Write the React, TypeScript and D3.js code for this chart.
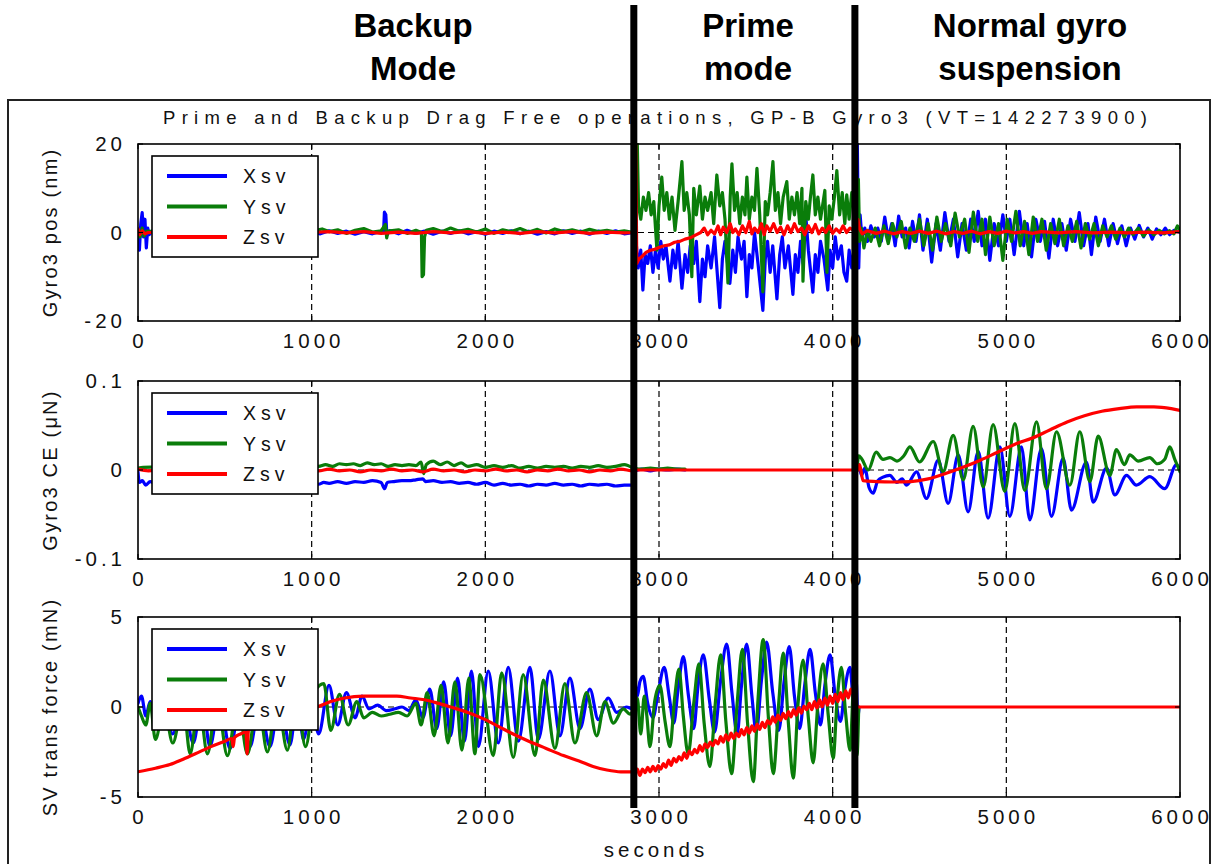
import React from "react";
import * as d3 from "d3";

type Pt = [number, number];

const W = 1217;
const H = 864;
const FONT = "'Liberation Sans', Arial, Helvetica, sans-serif";
const BLUE = "#0000ff";
const GREEN = "#0a7d0a";
const RED = "#ff0000";

// ---------- shared axis / annotation text ----------
const xTickValues = [0, 1000, 2000, 3000, 4000, 5000, 6000];
const xTickLabels = ["0", "1000", "2000", "3000", "4000", "5000", "6000"];
const modeBoundaries = [2855, 4128];
const seriesNames = ["Xsv", "Ysv", "Zsv"];
const headerLines = [
  ["Backup", "Mode"],
  ["Prime", "mode"],
  ["Normal gyro", "suspension"],
];
const plotTitle = "Prime and Backup Drag Free operations, GP-B Gyro3 (VT=142273900)";
const xAxisTitle = "seconds";

// ---------- panel 1: gyro position (nm) ----------
const posTicks = [-20, 0, 20];
const posTickLabels = ["-20", "0", "20"];

const posX: Pt[] = [
  [0, -1], [8, -4], [16, 2], [24, 4.5], [32, -1], [40, 3], [48, -3.5], [56, 1], [64, -0.5], [80, 0.3],
  [200, 0], [400, 0], [600, 0], [800, 0], [1000, 0.2], [1050, -0.3], [1100, 0.4], [1150, -0.2], [1200, 0.3],
  [1250, -0.4], [1300, 0.2], [1350, -0.3], [1400, 0.3], [1414, 0], [1419, 4.6], [1427, 4.0], [1433, -0.6],
  [1450, 0.4], [1500, -0.3], [1550, 0.5], [1600, -0.2], [1650, 0.3], [1700, -0.4], [1750, 0.3], [1800, -0.2],
  [1850, 0.4], [1900, -0.3], [1950, 0.2], [2000, -0.4], [2050, 0.3], [2100, -0.2], [2150, 0.4], [2200, -0.3],
  [2250, 0.3], [2300, -0.4], [2350, 0.2], [2400, -0.3], [2450, 0.4], [2500, -0.2], [2550, 0.3], [2600, -0.4],
  [2650, 0.3], [2700, -0.2], [2750, 0.4], [2800, -0.3], [2855, 0],
  // prime mode
  [2868, -2], [2880, -8], [2895, -4], [2907, -13], [2920, -5], [2935, -7], [2950, -3], [2965, -9], [2980, -4],
  [2995, -8], [3010, -2], [3025, -6], [3040, -3], [3063, -11], [3080, -4], [3095, -8], [3110, -2], [3132, -12.6],
  [3150, -5], [3165, -9], [3180, -3], [3200, -7], [3215, -2], [3235, -15.6], [3250, -6], [3265, -10], [3280, -3],
  [3300, -8], [3320, -1], [3350, -17], [3365, -6], [3380, -2], [3408, -11.5], [3425, -4], [3440, -9], [3455, -1],
  [3475, -6], [3490, -2], [3506, -14.5], [3520, -5], [3535, -8], [3550, 0], [3570, -7], [3598, -17.6], [3612, -6],
  [3625, -2], [3640, -9], [3655, -3], [3679, -15], [3695, -5], [3710, -1], [3725, -8], [3745, -3], [3771, -14],
  [3785, -5], [3800, -9], [3815, -2], [3830, -7], [3845, 4], [3860, -4], [3886, -13.5], [3900, -5], [3915, -9],
  [3930, -2], [3950, -6], [3972, -13], [3985, -4], [4000, -8], [4015, -1], [4030, -6], [4050, -3], [4065, -9],
  [4081, -11], [4095, -4], [4110, -8], [4125, -3],
  // normal suspension
  [4135, -9], [4142, 20], [4150, -8], [4158, 4], [4168, -1], [4185, 1], [4200, -2], [4220, 1.5], [4240, -1],
  [4260, 1], [4280, -2], [4300, 3.5], [4320, -1.5], [4340, 2], [4360, -3], [4380, 3.7], [4400, -1], [4420, 1],
  [4440, -3.5], [4460, 2.5], [4480, -2], [4500, 4], [4520, -4], [4545, 3], [4570, -6.7], [4595, 2], [4620, -4],
  [4646, 4.5], [4670, -2], [4695, 3], [4720, -5.5], [4745, 2], [4770, -4], [4795, 3], [4815, -2], [4838, 4.8],
  [4860, -3], [4880, 3], [4905, -6.3], [4930, 2], [4955, -3], [4980, 4], [5000, -2], [5020, 3], [5045, -5],
  [5075, 4.8], [5100, -3], [5120, 2], [5145, -5.5], [5170, 3], [5195, -2], [5220, 2.5], [5245, -5.8], [5270, 3],
  [5295, -3], [5320, 2], [5345, -4], [5370, 3], [5395, -2], [5420, 4.5], [5445, -3], [5470, 2], [5490, -5],
  [5515, 3.5], [5540, -2], [5565, 3], [5590, -3], [5615, 2], [5640, -2.5], [5665, 1.5], [5690, -3], [5715, 1],
  [5740, -1.5], [5765, 1.6], [5790, -1], [5815, 1], [5840, -1.5], [5865, 0.8], [5890, -0.5], [5915, 1],
  [5940, -0.5], [5965, 0.5], [6000, 0],
];

const posY: Pt[] = [
  [0, 0.5], [12, -1], [24, 1], [36, -0.8], [50, 0.3], [200, 0], [400, 0], [600, 0], [800, 0], [1000, 0.3],
  [1060, 0.8], [1100, 0.2], [1150, 0.6], [1200, -0.2], [1250, 0.5], [1300, 0.9], [1350, 0.1], [1400, 0.4],
  [1425, 1.8], [1432, -1.2], [1440, 0.3], [1500, 0.6], [1550, -0.2], [1600, 0.5], [1632, 0], [1636, -10],
  [1644, -9.5], [1650, -1], [1660, 0.5], [1700, 0.9], [1750, 0.2], [1800, 1.0], [1850, 0.3], [1900, 0.7],
  [1950, 0.1], [2000, 0.8], [2050, -0.2], [2100, 0.6], [2150, 0.2], [2200, 0.9], [2250, 0.1], [2300, 0.7],
  [2350, -0.1], [2400, 0.8], [2450, 0.2], [2500, 0.6], [2550, 0.1], [2600, 0.7], [2650, 0.2], [2700, 0.5],
  [2750, 0.1], [2800, 0.4], [2855, 0],
  // prime mode
  [2861, 20], [2875, 20], [2882, 6], [2895, 3], [2910, 8], [2925, 5], [2940, 9], [2955, 4], [2970, 7],
  [2988, -4], [3000, 6], [3016, 12.5], [3030, 5], [3045, 9], [3060, 3], [3075, 8], [3092, 0.5], [3110, 7],
  [3132, 16], [3145, 5], [3160, 9], [3175, 4], [3189, -10], [3200, 10], [3215, 4], [3235, 10.5], [3250, 3],
  [3265, 8], [3280, 5], [3300, 9], [3315, 2], [3333, 13], [3350, 6], [3365, 9], [3380, 3], [3397, -11.4],
  [3410, 8], [3420, 15.5], [3435, 5], [3450, 9], [3465, 2], [3480, 8], [3495, 4], [3506, 12.5], [3520, 3],
  [3535, 8], [3550, 5], [3564, 14.5], [3580, 4], [3598, -13.4], [3612, 7], [3625, 4], [3640, 9], [3656, 16],
  [3670, 5], [3685, 9], [3700, 2], [3715, 8], [3736, 11.5], [3750, 3], [3765, 8], [3780, 4], [3795, 9],
  [3810, 2], [3823, 10], [3829, -11], [3845, 7], [3860, 3], [3872, 8], [3886, 13], [3900, 4], [3915, 8],
  [3930, 3], [3955, 9.5], [3967, -9], [3980, 6], [3995, 3], [4010, 8], [4024, 14], [4040, 4], [4055, 9],
  [4070, 2], [4081, 8.5], [4095, 3], [4110, 9], [4125, 5],
  // normal suspension
  [4135, 2], [4148, 12], [4155, -2], [4165, 1], [4180, -3.5], [4200, 0.5], [4220, -2], [4245, 1], [4270, -3],
  [4295, 1.5], [4320, -2.5], [4345, 2], [4370, -1], [4395, 2.5], [4420, -3.5], [4445, 1], [4470, -2],
  [4500, 3], [4525, -3], [4550, 2], [4575, -4], [4600, 3.5], [4625, -2], [4650, 2], [4680, -3], [4705, 4.4],
  [4730, -1], [4760, 3], [4785, -4.5], [4810, 4.6], [4835, -2], [4860, 3], [4880, -5], [4905, 3.5],
  [4930, -3], [4955, 2], [4980, -6.3], [5005, 3], [5030, -2], [5055, 4.8], [5080, -3], [5105, 2.5],
  [5130, -5], [5155, 3.5], [5180, -2], [5205, 3], [5230, -4], [5255, 2], [5280, -2.5], [5305, 3], [5330, -3],
  [5355, 1.5], [5380, -2], [5405, 2.5], [5430, -3.5], [5455, 2], [5480, -1.5], [5505, 2], [5530, -3],
  [5555, 1.5], [5580, -1], [5605, 1.5], [5630, -1.5], [5655, 1], [5680, -1], [5705, 1], [5730, -0.5],
  [5760, 1], [5790, -0.8], [5820, 0.6], [5850, -0.5], [5880, 0.5], [5910, -0.3], [5940, 0.4], [5965, -0.3],
  [5985, 1.5], [6000, 0.5],
];

const posZ: Pt[] = [
  [0, 0.8], [10, -0.5], [25, 0.4], [40, -0.3], [60, 0], [300, 0], [600, 0], [1000, 0], [1100, 0.2],
  [1200, -0.1], [1300, 0.2], [1400, -0.2], [1500, 0.1], [1600, -0.2], [1700, 0.2], [1800, -0.1],
  [1900, 0.2], [2000, -0.2], [2100, 0.1], [2200, -0.2], [2300, 0.2], [2400, -0.1], [2500, 0.2],
  [2600, -0.2], [2700, 0.1], [2800, -0.1], [2855, 0],
  // prime mode
  [2860, 0], [2866, 20], [2872, -7], [2885, -6], [2900, -5.5], [2925, -4.5], [2950, -4], [2975, -3.8],
  [3000, -3.4], [3030, -3], [3060, -2.8], [3090, -2.2], [3120, -2], [3150, -1.5], [3180, -1.2],
  [3210, -0.6], [3240, 0], [3260, 1], [3280, -0.5], [3300, 0.5], [3320, -0.3], [3340, 1.5], [3355, -0.5],
  [3370, 1.2], [3390, 0], [3410, 2], [3425, 0], [3440, 0.8], [3460, -0.5], [3480, 1.5], [3500, 0],
  [3520, 2.5], [3535, -0.3], [3550, 1], [3570, 0], [3590, 2], [3605, -0.5], [3620, 1.5], [3640, 0.3],
  [3660, 2], [3680, 0], [3700, 1.2], [3720, -0.5], [3740, 1.5], [3760, 0], [3780, 2], [3800, 0.2],
  [3820, 1], [3840, -0.5], [3860, 1.5], [3880, 0], [3900, 1.8], [3920, -0.3], [3940, 1], [3960, 0],
  [3980, 1.5], [4000, -0.2], [4020, 0.8], [4040, 0], [4060, 1.5], [4080, 0], [4100, 1], [4120, 0.5],
  // normal suspension
  [4135, 0.5], [4145, 3], [4155, 0.8], [4170, -0.3], [4200, 0.4], [4250, -0.2], [4300, 0.3], [4350, -0.3],
  [4400, 0.2], [4450, -0.2], [4500, 0.3], [4550, -0.2], [4600, 0.3], [4650, -0.3], [4700, 0.2],
  [4750, -0.2], [4800, 0.3], [4850, -0.3], [4900, 0.2], [4950, -0.2], [5000, 0.3], [5050, -0.1],
  [5100, 0.2], [5150, -0.2], [5200, 0.2], [5300, -0.1], [5400, 0.2], [5500, -0.1], [5600, 0.1],
  [5700, -0.1], [5800, 0.1], [5900, -0.1], [6000, 0.2],
];

// ---------- panel 2: gyro control effort (µN) ----------
const ceTicks = [-0.1, 0, 0.1];
const ceTickLabels = ["-0.1", "0", "0.1"];

const ceX_backup: Pt[] = [
  [0, -0.002], [8, -0.014], [25, -0.012], [45, -0.017], [70, -0.013], [100, -0.015], [300, -0.015],
  [600, -0.015], [900, -0.015], [1040, -0.016], [1070, -0.014], [1100, -0.015], [1150, -0.013],
  [1200, -0.015], [1250, -0.013], [1300, -0.014], [1350, -0.012], [1400, -0.014], [1420, -0.021],
  [1435, -0.014], [1470, -0.013], [1520, -0.012], [1560, -0.012], [1600, -0.011], [1640, -0.010],
  [1655, -0.013], [1700, -0.012], [1750, -0.014], [1800, -0.013], [1850, -0.015], [1900, -0.014],
  [1950, -0.016], [2000, -0.014], [2050, -0.017], [2100, -0.015], [2150, -0.017], [2200, -0.016],
  [2250, -0.018], [2300, -0.016], [2350, -0.017], [2400, -0.015], [2450, -0.017], [2500, -0.016],
  [2550, -0.018], [2600, -0.016], [2650, -0.017], [2700, -0.016], [2750, -0.018], [2800, -0.017],
  [2850, -0.017],
];
const ceX_prime: Pt[] = [
  [2860, -0.001], [2900, 0.001], [2950, -0.001], [3000, 0.001], [3050, 0], [3100, 0.001], [3150, 0],
];
const ceX_normal: Pt[] = [
  [4140, 0], [4150, 0.006], [4166, -0.006], [4185, 0.002], [4210, -0.02], [4233, -0.026], [4260, -0.012],
  [4290, -0.008], [4329, -0.006], [4370, -0.014], [4400, -0.01], [4425, -0.017], [4483, -0.002],
  [4540, -0.032], [4608, 0.011], [4665, -0.0375], [4723, 0.017], [4780, -0.047], [4838, 0.021],
  [4895, -0.054], [4963, 0.026], [5020, -0.052], [5087, 0.026], [5135, -0.056], [5202, 0.024],
  [5260, -0.052], [5327, 0.013], [5375, -0.045], [5461, 0.009], [5500, -0.036], [5577, 0.002],
  [5625, -0.028], [5692, -0.006], [5749, -0.017], [5826, -0.0075], [5912, -0.021], [5980, 0.006],
  [6000, 0],
];

const ceY_backup: Pt[] = [
  [0, 0.002], [30, 0.003], [300, 0.004], [600, 0.004], [900, 0.004], [1040, 0.004], [1080, 0.006],
  [1120, 0.004], [1160, 0.007], [1200, 0.006], [1240, 0.007], [1280, 0.005], [1320, 0.008], [1360, 0.006],
  [1400, 0.007], [1440, 0.004], [1480, 0.006], [1520, 0.005], [1560, 0.006], [1600, 0.005], [1630, 0.009],
  [1645, -0.004], [1660, 0.006], [1700, 0.01], [1740, 0.006], [1780, 0.009], [1820, 0.005], [1860, 0.008],
  [1900, 0.004], [1950, 0.006], [2000, 0.003], [2050, 0.005], [2100, 0.003], [2150, 0.005], [2200, 0.002],
  [2250, 0.004], [2300, 0.002], [2350, 0.004], [2400, 0.003], [2450, 0.004], [2500, 0.002], [2550, 0.004],
  [2600, 0.003], [2650, 0.005], [2700, 0.003], [2750, 0.004], [2800, 0.006], [2850, 0.002],
];
const ceY_prime: Pt[] = [
  [2860, 0.002], [2900, 0.001], [2950, 0.002], [3000, 0.001], [3050, 0.002], [3100, 0.001], [3150, 0.001],
];
const ceY_normal: Pt[] = [
  [4140, 0.0], [4150, 0.016], [4166, 0.013], [4205, 0.0], [4250, 0.02], [4290, 0.012], [4330, 0.014],
  [4370, 0.01], [4410, 0.016], [4445, 0.026], [4500, 0.009], [4579, 0.032], [4636, -0.002], [4694, 0.039],
  [4752, -0.011], [4809, 0.049], [4867, -0.019], [4924, 0.051], [4991, -0.024], [5049, 0.052],
  [5106, -0.023], [5174, 0.054], [5231, -0.021], [5289, 0.043], [5366, -0.017], [5423, 0.043],
  [5481, -0.013], [5529, 0.038], [5596, -0.006], [5634, 0.023], [5680, 0.006], [5711, 0.017],
  [5760, 0.01], [5826, 0.014], [5870, 0.007], [5912, 0.012], [5941, 0.026], [5970, 0.012], [6000, -0.002],
];

const ceZ_backup: Pt[] = [
  [0, 0.001], [60, -0.001], [150, 0.0], [300, 0], [600, 0], [900, 0], [1040, -0.001], [1100, 0.001],
  [1160, -0.001], [1220, 0.0], [1280, -0.002], [1340, 0.0], [1400, -0.001], [1460, 0.001], [1520, -0.001],
  [1580, 0.0], [1640, -0.002], [1700, 0.001], [1760, -0.001], [1820, 0.0], [1880, -0.002], [1940, 0.0],
  [2000, -0.001], [2060, 0.001], [2120, -0.001], [2180, 0.0], [2240, -0.002], [2300, 0.0], [2360, -0.001],
  [2420, 0.001], [2480, -0.001], [2540, 0.0], [2600, -0.002], [2660, 0.0], [2720, -0.001], [2780, 0.001],
  [2850, -0.001], [2855, 0], [4145, 0],
];
const ceZ_normal: Pt[] = [
  [4145, 0], [4155, 0.006], [4175, -0.012], [4250, -0.013], [4350, -0.0135], [4450, -0.013],
  [4550, -0.01], [4650, -0.004], [4750, 0.003], [4850, 0.011], [4950, 0.02], [5050, 0.029],
  [5150, 0.036], [5250, 0.045], [5350, 0.054], [5450, 0.061], [5550, 0.066], [5650, 0.069],
  [5750, 0.071], [5850, 0.071], [5950, 0.069], [6000, 0.067],
];

// ---------- panel 3: space vehicle translational force (mN) ----------
const forceTicks = [-5, 0, 5];
const forceTickLabels = ["-5", "0", "5"];

const forceX: Pt[] = [
  [0, 0.2], [20, 0.6], [45, -0.5], [70, 0.3], [100, -1.2], [150, 0.3], [200, -1.5], [260, 0.4],
  [318, -2.0], [370, 0.4], [414, -2.2], [470, 0.3], [530, -2.3], [590, 0.2], [645, -2.2], [700, 0.2],
  [760, -2.2], [815, 0.4], [875, -2.1], [920, 0.6], [952, -1.8], [1000, 0.2], [1040, -1.5], [1100, 1.2],
  [1150, -1.0], [1200, 0.8], [1250, -0.6], [1290, 0.6], [1330, -0.1], [1380, 0.1], [1430, -0.2],
  [1480, -0.1], [1520, 0.0], [1560, -0.2], [1600, 0.4], [1640, -0.6], [1680, 1.0], [1720, -1.2],
  [1760, 1.4], [1800, -1.6], [1840, 1.6], [1880, -1.9], [1920, 2.0], [1960, -2.2], [2017, 2.0],
  [2075, -2.0], [2132, 2.2], [2190, -1.9], [2257, 2.2], [2305, -1.8], [2372, 2.0], [2430, -1.6],
  [2487, 1.6], [2545, -1.2], [2602, 1.0], [2650, -0.7], [2708, 0.5], [2756, -0.3], [2813, 0.0],
  [2850, -0.1],
  // prime mode
  [2858, 1.5], [2875, 0.6], [2890, 1.4], [2909, 1.7], [2935, 0.2], [2965, -0.6], [2995, 0.8],
  [3030, 2.2], [3060, 0.5], [3085, -0.9], [3110, 1.0], [3140, 2.8], [3170, 0.6], [3200, -1.2],
  [3225, 1.2], [3255, 2.9], [3290, 0.4], [3320, -1.4], [3355, 1.5], [3390, 3.5], [3420, 0.8],
  [3450, -1.5], [3475, 1.2], [3505, 3.5], [3535, 0.6], [3560, -1.4], [3590, 1.5], [3620, 3.6],
  [3655, 0.8], [3690, -1.3], [3720, 1.4], [3750, 3.35], [3780, 0.6], [3810, -1.2], [3840, 1.3],
  [3870, 3.2], [3900, 0.8], [3930, -1.0], [3955, 1.2], [3985, 2.9], [4015, 0.6], [4045, -0.8],
  [4070, 1.0], [4100, 2.2], [4120, 0.4], [4135, 1.5], [4145, -0.5], [4152, 0],
];

const forceY: Pt[] = [
  [0, 0], [20, -0.5], [45, -1.0], [70, 0.2], [100, -1.8], [150, 0], [200, -2.0], [260, 0.2], [300, -2.6],
  [350, 0.3], [400, -2.6], [455, 0.4], [515, -2.7], [575, 0.3], [630, -2.6], [690, 0.4], [745, -2.5],
  [800, 0.5], [860, -2.4], [910, 0.8], [965, -2.2], [1020, 0.9], [1070, 1.3], [1110, -1.3], [1160, 0.7],
  [1210, -1.0], [1260, 0.3], [1300, -0.6], [1350, -0.3], [1400, -0.5], [1450, -0.4], [1500, -0.3],
  [1550, -0.5], [1600, 0.2], [1630, -1.0], [1665, 0.8], [1705, -1.6], [1745, 1.2], [1785, -2.0],
  [1825, 1.4], [1865, -2.4], [1905, 1.6], [1940, -2.6], [1969, 1.8], [2046, -2.7], [2094, 1.9],
  [2161, -2.8], [2218, 1.8], [2286, -2.7], [2334, 1.5], [2401, -2.3], [2458, 1.3], [2516, -2.0],
  [2583, 0.8], [2641, -1.6], [2689, 0.3], [2737, -0.9], [2794, -0.1], [2833, -0.4], [2850, -0.3],
  // prime mode
  [2858, -0.3], [2875, 0.5], [2895, -1.5], [2915, 0.6], [2930, -0.5], [2948, -2.2], [2975, 0.3],
  [3005, 1.2], [3035, -0.8], [3063, -2.2], [3090, 0.5], [3115, 2.1], [3140, -0.5], [3168, -2.6],
  [3200, 0.2], [3230, 2.4], [3260, -0.9], [3293, -3.3], [3325, 0.3], [3355, 2.9], [3385, -0.8],
  [3418, -3.7], [3450, 0.2], [3480, 3.2], [3510, -0.9], [3543, -4.15], [3570, 0.4], [3600, 3.75],
  [3630, -0.6], [3658, -3.7], [3690, 0.3], [3715, 3.0], [3745, -0.9], [3773, -3.95], [3800, 0.1],
  [3830, 2.6], [3860, -0.6], [3888, -3.1], [3915, 0.2], [3945, 2.4], [3975, -0.5], [4003, -2.85],
  [4025, 0.3], [4050, 2.2], [4075, -0.4], [4100, -2.4], [4118, 1.0], [4130, 2.5], [4140, -2.7], [4150, 0],
];

const forceZ_backup: Pt[] = [
  [0, -3.6], [100, -3.4], [184, -3.2], [260, -2.9], [330, -2.6], [420, -2.2], [500, -1.9], [540, -1.75],
  [548, -2.2], [556, -1.7], [590, -1.5], [622, -1.4], [628, -2.6], [636, -1.3], [670, -1.1], [700, -1.0],
  [770, -0.7], [860, -0.3], [950, -0.1], [1030, 0.0], [1110, 0.3], [1190, 0.5], [1300, 0.6], [1400, 0.6],
  [1490, 0.6], [1570, 0.5], [1650, 0.4], [1730, 0.2], [1800, 0.0], [1900, -0.3], [2000, -0.7], [2080, -1.1],
  [2160, -1.5], [2250, -1.9], [2350, -2.3], [2450, -2.7], [2540, -3.0], [2620, -3.3], [2700, -3.5],
  [2780, -3.6], [2850, -3.6],
];
// prime-mode samples, every 15 s from 2860 s
const forceZ_primeStart = 2860;
const forceZ_primeStep = 15;
const forceZ_prime = [
  -3.75, -3.45, -3.8, -3.45, -3.65, -3.35, -3.6, -3.3, -3.55, -3.25, -3.45, -3.15, -3.35, -2.95, -3.25,
  -2.85, -3.05, -2.75, -2.95, -2.55, -2.85, -2.45, -2.65, -2.35, -2.55, -2.15, -2.45, -2.05, -2.25, -1.95,
  -2.15, -1.85, -2.05, -1.65, -1.95, -1.55, -1.85, -1.45, -1.75, -1.45, -1.65, -1.25, -1.55, -1.15, -1.45,
  -1.05, -1.35, -0.95, -1.25, -0.85, -1.15, -0.75, -0.95, -0.55, -0.85, -0.45, -0.75, -0.35, -0.65, -0.25,
  -0.55, -0.15, -0.45, -0.05, -0.35, 0.05, -0.15, 0.2, -0.15, 0.3, -0.05, 0.4, 0.0, 0.5, 0.1, 0.6, 0.2,
  0.7, 0.3, 0.8, 0.4, 0.9, 0.5, 1.0, 0.7,
];
const forceZ_normal: Pt[] = [[4130, 0.8], [4140, 0], [6000, 0]];

// ---------- layout ----------
const x = d3.scaleLinear().domain([0, 6000]).range([138, 1180]);

type Series = { color: string; segments: Pt[][] };
type PanelCfg = {
  top: number;
  bottom: number;
  ticks: number[];
  tickLabels: string[];
  yTitle: string;
  curve: d3.CurveFactory;
  series: Series[];
};

const forceZPrimePts: Pt[] = forceZ_prime.map((v, i) => [forceZ_primeStart + i * forceZ_primeStep, v]);

const panels: PanelCfg[] = [
  {
    top: 144,
    bottom: 321,
    ticks: posTicks,
    tickLabels: posTickLabels,
    yTitle: "Gyro3 pos (nm)",
    curve: d3.curveLinear,
    series: [
      { color: BLUE, segments: [posX] },
      { color: GREEN, segments: [posY] },
      { color: RED, segments: [posZ] },
    ],
  },
  {
    top: 381,
    bottom: 559,
    ticks: ceTicks,
    tickLabels: ceTickLabels,
    yTitle: "Gyro3 CE (\u03bcN)",
    curve: d3.curveMonotoneX,
    series: [
      { color: BLUE, segments: [ceX_backup, ceX_prime, ceX_normal] },
      { color: GREEN, segments: [ceY_backup, ceY_prime, ceY_normal] },
      { color: RED, segments: [ceZ_backup, ceZ_normal] },
    ],
  },
  {
    top: 617,
    bottom: 797,
    ticks: forceTicks,
    tickLabels: forceTickLabels,
    yTitle: "SV trans force (mN)",
    curve: d3.curveMonotoneX,
    series: [
      { color: BLUE, segments: [forceX] },
      { color: GREEN, segments: [forceY] },
      { color: RED, segments: [[...forceZ_backup, ...forceZPrimePts, ...forceZ_normal]] },
    ],
  },
];

const seriesColors = [BLUE, GREEN, RED];
const headerX = [413, 748, 1030];

function Panel({ cfg, idx }: { cfg: PanelCfg; idx: number }) {
  const y = d3
    .scaleLinear()
    .domain([cfg.ticks[0], cfg.ticks[cfg.ticks.length - 1]])
    .range([cfg.bottom, cfg.top]);
  const line = d3
    .line<Pt>()
    .x((d) => x(d[0]))
    .y((d) => y(d[1]))
    .curve(cfg.curve);
  const [left, right] = x.range();
  const clipId = `plot-clip-${idx}`;
  const legendX = left + 14;
  const legendY = cfg.top + 12;
  const midY = (cfg.top + cfg.bottom) / 2;

  return (
    <g>
      <defs>
        <clipPath id={clipId}>
          <rect x={left} y={cfg.top - 1} width={right - left} height={cfg.bottom - cfg.top + 2} />
        </clipPath>
      </defs>

      {/* dashed grid */}
      {xTickValues.slice(1, -1).map((t) => (
        <line
          key={`gx${t}`}
          x1={x(t)}
          x2={x(t)}
          y1={cfg.top}
          y2={cfg.bottom}
          stroke="#000"
          strokeWidth={1.2}
          strokeDasharray="6,4"
        />
      ))}
      {cfg.ticks.slice(1, -1).map((v) => (
        <line
          key={`gy${v}`}
          x1={left}
          x2={right}
          y1={y(v)}
          y2={y(v)}
          stroke="#000"
          strokeWidth={1.2}
          strokeDasharray="6,4"
        />
      ))}

      {/* data */}
      <g clipPath={`url(#${clipId})`}>
        {cfg.series.map((s, si) =>
          s.segments.map((seg, gi) => (
            <path
              key={`s${si}-${gi}`}
              d={line(seg) || ""}
              fill="none"
              stroke={s.color}
              strokeWidth={3.2}
              strokeLinejoin="round"
              strokeLinecap="round"
            />
          ))
        )}
      </g>

      {/* axes box */}
      <rect
        x={left}
        y={cfg.top}
        width={right - left}
        height={cfg.bottom - cfg.top}
        fill="none"
        stroke="#000"
        strokeWidth={1.6}
      />
      {xTickValues.map((t) => (
        <g key={`tx${t}`}>
          <line x1={x(t)} x2={x(t)} y1={cfg.bottom} y2={cfg.bottom - 5} stroke="#000" strokeWidth={1.2} />
          <line x1={x(t)} x2={x(t)} y1={cfg.top} y2={cfg.top + 5} stroke="#000" strokeWidth={1.2} />
        </g>
      ))}
      {cfg.ticks.map((v) => (
        <g key={`ty${v}`}>
          <line x1={left} x2={left + 5} y1={y(v)} y2={y(v)} stroke="#000" strokeWidth={1.2} />
          <line x1={right} x2={right - 5} y1={y(v)} y2={y(v)} stroke="#000" strokeWidth={1.2} />
        </g>
      ))}

      {/* tick labels */}
      {xTickValues.map((t, i) => (
        <text
          key={`lx${t}`}
          x={x(t) + 2}
          y={cfg.bottom + 27}
          textAnchor="middle"
          fontSize={20.5}
          letterSpacing={4}
          fill="#111"
        >
          {xTickLabels[i]}
        </text>
      ))}
      {cfg.ticks.map((v, i) => (
        <text
          key={`ly${v}`}
          x={126}
          y={y(v) + 7}
          textAnchor="end"
          fontSize={20.5}
          letterSpacing={4}
          fill="#111"
        >
          {cfg.tickLabels[i]}
        </text>
      ))}

      {/* y axis title */}
      <text
        transform={`translate(57,${midY}) rotate(-90)`}
        textAnchor="middle"
        fontSize={20}
        letterSpacing={2.2}
        fill="#111"
      >
        {cfg.yTitle}
      </text>

      {/* legend */}
      <rect x={legendX} y={legendY} width={166} height={101} fill="#fff" stroke="#000" strokeWidth={1.6} />
      {seriesNames.map((name, i) => {
        const ry = legendY + 20 + i * 30.5;
        return (
          <g key={name}>
            <line x1={legendX + 15} x2={legendX + 75} y1={ry} y2={ry} stroke={seriesColors[i]} strokeWidth={4} />
            <text x={legendX + 91} y={ry + 7} fontSize={19.5} letterSpacing={5} fill="#111">
              {name}
            </text>
          </g>
        );
      })}
    </g>
  );
}

export default function App() {
  return (
    <svg
      width={W}
      height={H}
      viewBox={`0 0 ${W} ${H}`}
      style={{ position: "absolute", left: 0, top: 0, display: "block" }}
      fontFamily={FONT}
    >
      <rect width={W} height={H} fill="#fff" />
      <rect x={8} y={100} width={1202} height={800} fill="none" stroke="#222" strokeWidth={2} />

      <text x={655} y={124} textAnchor="middle" fontSize={18.5} textLength={984} lengthAdjust="spacing" fill="#111">
        {plotTitle}
      </text>

      {panels.map((p, i) => (
        <Panel key={i} cfg={p} idx={i} />
      ))}

      <text x={656} y={857} textAnchor="middle" fontSize={20.5} letterSpacing={4} fill="#111">
        {xAxisTitle}
      </text>

      {/* mode boundaries */}
      {modeBoundaries.map((t) => (
        <rect key={t} x={x(t) - 3.5} y={5} width={7} height={803} fill="#000" />
      ))}

      {/* mode headers */}
      {headerLines.map((lines, i) => (
        <g key={i}>
          {lines.map((s, j) => (
            <text
              key={j}
              x={headerX[i]}
              y={37 + j * 43}
              textAnchor="middle"
              fontSize={33}
              fontWeight="bold"
              fill="#000"
            >
              {s}
            </text>
          ))}
        </g>
      ))}
    </svg>
  );
}
